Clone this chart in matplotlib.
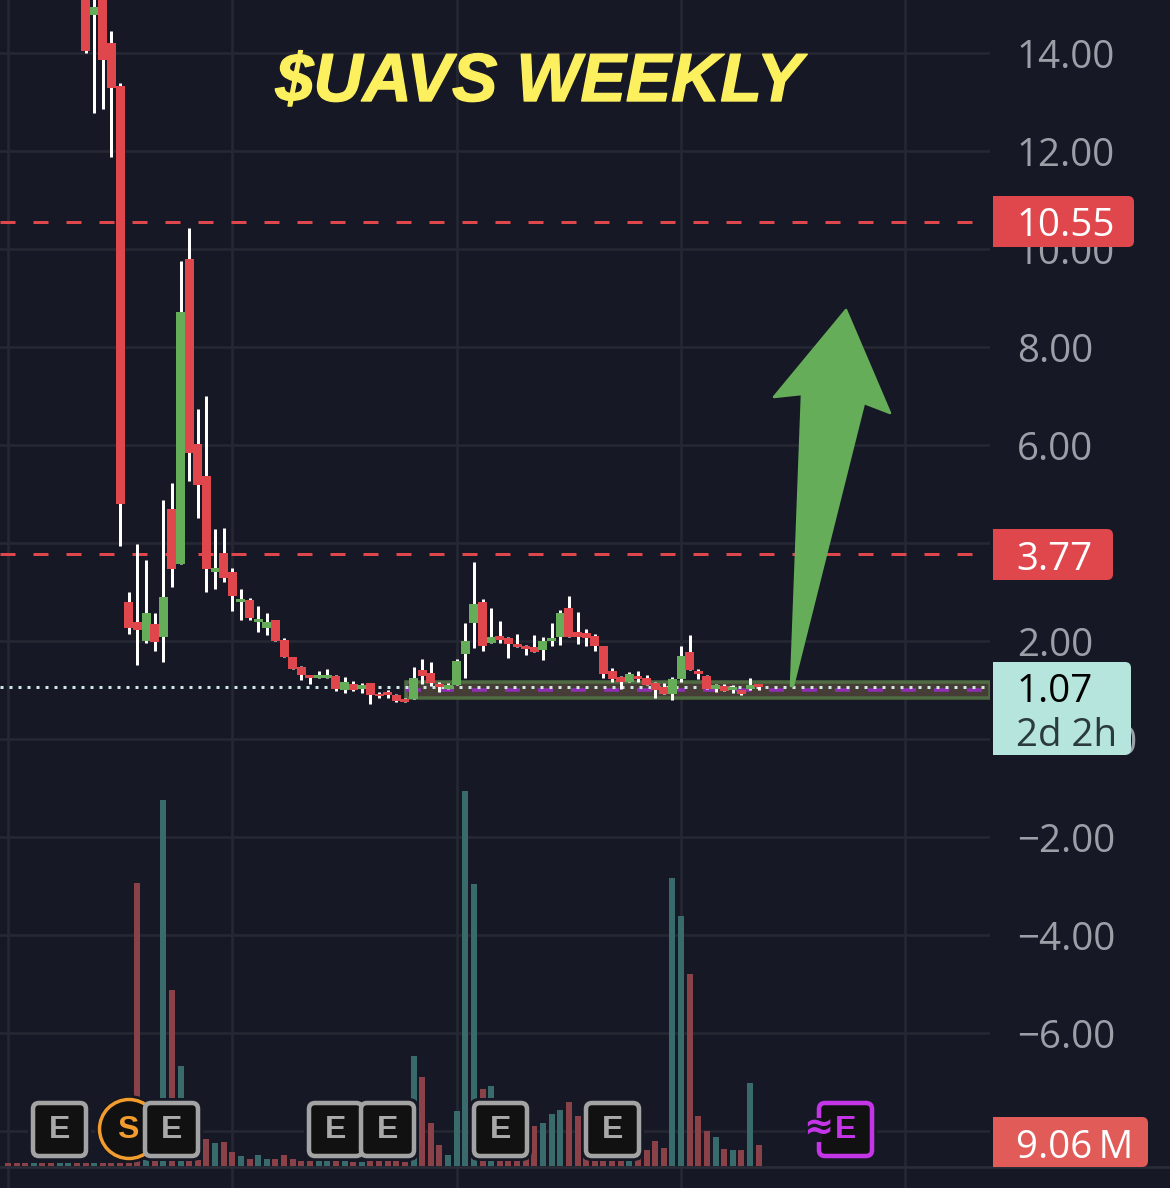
import matplotlib
matplotlib.use("Agg")
import matplotlib.pyplot as plt
import matplotlib.patheffects as pe
from matplotlib.patches import FancyBboxPatch, Polygon, Circle, Rectangle
from matplotlib.path import Path
from matplotlib.patches import PathPatch

# ---------- data ----------
opens = [15.6,14.77,15.3,14.2,13.32,2.79,2.38,1.99,2.34,2.08,4.69,3.57,9.79,6.03,5.36,3.40,3.79,3.40,2.79,2.83,
         2.38,2.26,2.42,2.03,1.67,1.46,1.30,1.24,1.24,1.28,0.99,1.12,1.03,1.14,0.91,0.95,0.89,0.81,0.81,1.40,
         1.34,1.12,1.03,1.10,1.73,2.36,2.79,1.95,2.10,2.06,1.93,1.89,1.87,1.81,1.99,2.08,2.67,2.18,2.16,2.10,
         1.89,1.38,1.26,1.16,1.28,1.24,1.14,1.06,0.91,1.22,1.77,1.38,1.28,1.03,1.08,0.99,0.99,1.03,1.12]
closes = [14.05,14.93,13.85,13.28,4.79,2.26,2.22,2.57,1.97,2.89,3.46,8.71,5.83,5.18,3.46,3.50,3.28,2.91,2.85,2.46,
          2.44,2.38,2.01,1.67,1.42,1.30,1.24,1.30,1.30,1.03,1.16,0.99,1.10,0.89,0.87,0.89,0.77,0.75,1.24,1.28,
          1.14,1.06,1.10,1.59,2.01,2.75,1.89,2.08,2.03,1.93,1.87,1.83,1.77,1.99,2.06,2.57,2.08,2.08,2.06,1.89,
          1.32,1.22,1.16,1.32,1.22,1.10,0.99,0.91,1.22,1.69,1.40,1.32,1.03,1.10,0.97,1.06,0.91,1.10,1.06]
highs = [15.9,15.6,15.6,14.44,13.38,2.99,3.97,3.65,2.57,4.87,5.22,9.75,10.42,6.73,7.01,4.28,4.30,3.48,3.06,2.87,
         2.71,2.57,2.42,2.06,1.67,1.48,1.30,1.38,1.42,1.30,1.26,1.18,1.14,1.14,0.95,0.99,0.91,0.83,1.46,1.63,
         1.57,1.16,1.14,1.63,2.36,3.61,2.85,2.67,2.40,2.08,2.14,1.91,2.12,2.08,2.36,2.63,2.91,2.59,2.24,2.14,
         1.89,1.44,1.28,1.36,1.38,1.30,1.16,1.14,1.26,1.89,2.12,1.42,1.30,1.12,1.12,1.10,1.01,1.24,1.12]
lows = [14.01,12.77,12.85,11.87,3.93,2.14,1.52,1.95,1.79,1.57,3.10,3.57,5.26,4.52,2.99,3.06,3.20,2.61,2.42,2.42,
        2.18,2.12,2.01,1.67,1.42,1.20,1.12,1.24,1.24,0.97,0.93,0.97,0.93,0.71,0.83,0.83,0.75,0.75,0.81,1.12,
        1.08,0.95,1.03,1.10,1.24,1.85,1.79,1.95,1.95,1.65,1.87,1.71,1.77,1.61,1.89,1.91,2.08,1.93,1.89,1.79,
        1.24,1.16,1.03,1.16,1.16,1.10,0.83,0.91,0.79,1.16,1.40,1.22,1.03,0.95,0.97,0.93,0.89,0.99,1.01]
first_volume_index = -9
early_volume_up = [0,0,0,1,0,0,1,1,0]   # weeks left of the first visible candle
volumes_m = [1.4,1.3,1.3,1.4,1.3,1.2,1.4,1.3,1.2,
             1.3,1.2,1.3,1.2,1.2,1.3,122,2.6,2.2,157.7,75.9,43.1,2.2,2.6,11.6,9.9,10.3,6.0,4.3,3.0,
             4.7,3.0,3.0,4.7,3.0,2.2,2.2,2.2,2.2,2.2,2.2,1.7,1.7,2.2,2.2,2.2,2.2,1.7,47.4,38.4,
             18.5,9.1,4.7,23.7,161.6,121.5,33.2,34.5,5,5,5,5,17.2,18.5,22.4,24.1,27.6,21.6,5,5,
             5,5,5,5,5,6.9,10.8,7.8,124,107.8,82.8,21.6,15.1,12.5,7.3,6.9,6.9,35.8,9.06]
price_ticks = [-8,-6,-4,-2,0,2,4,6,8,10,12,14]
price_tick_labels = ["\u22128.00","\u22126.00","\u22124.00","\u22122.00","0.0000","2.00","4.00","6.00","8.00","10.00","12.00","14.00"]
resistance_levels = [10.55, 3.77]
current_price = 1.07
support_low, support_high = 0.83, 1.17
support_start_index = 37.1
support_mid = 1.00
time_grid_indices = [-9,17,43,69,95]

# ---------- style ----------
W, H = 1170, 1188
BG = "#161925"
GRID = "#252833"
RED = "#e0474d"
GREEN = "#66ad59"
VOL_RED = "#8a4248"
VOL_TEAL = "#3a6b6c"
LABEL = "#9c9ea8"
FONT = "Open Sans"
FS = 38.5
PX = 0.72  # points per pixel at dpi 100
X0, STEP = 85.6, 8.63
Y0, YS = 739.0, 49.0
PANEL = 990

fig = plt.figure(figsize=(W/100, H/100), dpi=100, facecolor=BG)
ax = fig.add_axes([0, 0, PANEL/W, 1], facecolor=BG)
ax.set_xlim(-X0/STEP, (PANEL-X0)/STEP)
ax.set_ylim((Y0-H)/YS, Y0/YS)
for s in ax.spines.values():
    s.set_visible(False)
ax.set_xticks(time_grid_indices)
ax.set_yticks(price_ticks)
ax.set_yticklabels(price_tick_labels, fontfamily=FONT, fontsize=FS*PX, color=LABEL)
ax.yaxis.tick_right()
ax.tick_params(axis="y", length=0, pad=27*PX)
ax.tick_params(axis="x", length=0, labelbottom=False)
ax.set_axisbelow(True)
ax.grid(True, color=GRID, linewidth=2.6*PX)

# support zone
x_end = (PANEL-X0)/STEP
ax.add_patch(Rectangle((support_start_index, support_low), x_end-support_start_index, support_high-support_low,
                       facecolor="#453d36", edgecolor="#4f6b41", linewidth=3.5*PX, zorder=2))
ax.hlines(support_mid, support_start_index, x_end, color="#8d2fb0", linewidth=3.6*PX,
          linestyles=[(0, (15/3.6, 18/3.6))], zorder=2.2)
# resistance and last price lines
for lvl in resistance_levels:
    ax.hlines(lvl, ax.get_xlim()[0], (975-X0)/STEP, color=RED, linewidth=3*PX,
              linestyles=[(0, (15/3, 18/3))], zorder=2.5)
ax.hlines(current_price, ax.get_xlim()[0], x_end, color="#cfe8e4", linewidth=3*PX,
          linestyles=[(0, (1, 2))], zorder=2.6)

# candles
idx = list(range(len(opens)))
ax.vlines(idx, lows, highs, color="white", linewidth=3*PX, zorder=3)
for i, o, c in zip(idx, opens, closes):
    ax.bar(i, abs(c-o), bottom=min(o, c), width=9/STEP, color=GREEN if c >= o else RED, linewidth=0, zorder=4)

# volume pane
vax = fig.add_axes([0, 0, PANEL/W, 1], facecolor="none", zorder=1)
vax.set_xlim(ax.get_xlim())
PERPX = 0.431
vax.set_ylim(-(H-1166)*PERPX, 1166*PERPX)
vax.axis("off")
vol_up = early_volume_up + [int(c >= o) for o, c in zip(opens, closes)]
vidx = list(range(first_volume_index, first_volume_index+len(volumes_m)))
vax.bar(vidx, volumes_m, width=6/STEP, color=[VOL_TEAL if u else VOL_RED for u in vol_up], linewidth=0)

# overlay in pixel space for annotations
ov = fig.add_axes([0, 0, 1, 1], facecolor="none", zorder=2)
ov.set_xlim(0, W)
ov.set_ylim(H, 0)
ov.axis("off")
ov.plot([0, W], [1167, 1167], color="#2a2d38", lw=2.6*PX, zorder=1)

# right scale labels
def tag(x0, y0, x1, y1, color):
    r = 6
    verts = [(x0, y0), (x1-r, y0), (x1, y0), (x1, y0+r), (x1, y1-r), (x1, y1), (x1-r, y1), (x0, y1), (x0, y0)]
    codes = [Path.MOVETO, Path.LINETO, Path.CURVE3, Path.CURVE3, Path.LINETO, Path.CURVE3, Path.CURVE3, Path.LINETO, Path.CLOSEPOLY]
    ov.add_patch(PathPatch(Path(verts, codes), facecolor=color, edgecolor="none", zorder=3))

tag(993, 196, 1134, 247, RED)
ov.text(1017, 222, "10.55", color="white", fontfamily=FONT, fontsize=FS*PX, va="center_baseline", zorder=4)
tag(993, 529, 1113, 580, RED)
ov.text(1016, 555, "3.77", color="white", fontfamily=FONT, fontsize=FS*PX, va="center_baseline", zorder=4)
tag(993, 662, 1131, 755, "#b5e5dd")
ov.text(1017, 688, "1.07", color="black", fontfamily=FONT, fontsize=FS*PX, va="center_baseline", zorder=4)
ov.text(1016, 731, "2d 2h", color="#2b3b3b", fontfamily=FONT, fontsize=FS*PX, va="center_baseline", zorder=4)
tag(993, 1117, 1148, 1167, "#e15c58")
ov.text(1016, 1143, "9.06\u2009M", color="white", fontfamily=[FONT, "DejaVu Sans"], fontsize=FS*PX, va="center_baseline", zorder=4)

# arrow annotation
arrow_px = [(846, 310), (890, 413), (864, 403), (793, 686), (791, 686), (802, 394), (774, 397)]
ov.add_patch(Polygon(arrow_px, closed=True, facecolor=GREEN, edgecolor=GREEN, linewidth=2.5*PX, joinstyle="round", zorder=2.5))

# title
ov.text(539, 83, "$UAVS WEEKLY", color="#fdf05f", fontfamily="Liberation Sans", fontweight="bold", fontstyle="italic",
        fontsize=68*PX, ha="center", va="center", zorder=5,
        path_effects=[pe.withStroke(linewidth=1.0, foreground="#fdf05f")])

# event icons
def e_box(x0, label_color="#a9a9a9", edge="#a3a3a3"):
    ov.add_patch(FancyBboxPatch((x0-1, 1100), 59, 59, boxstyle="round,pad=0,rounding_size=8", facecolor=BG, edgecolor=BG,
                                linewidth=4*PX, zorder=5))
    ov.add_patch(FancyBboxPatch((x0+2, 1103), 53, 53, boxstyle="round,pad=0,rounding_size=6", facecolor="#111111",
                                edgecolor=edge, linewidth=4.5*PX, zorder=5.1))
    ov.text(x0+28.5, 1130, "E", color=label_color, fontfamily="Liberation Sans", fontweight="bold", fontsize=32*PX,
            ha="center", va="center", zorder=5.2)

e_box(31)
ov.add_patch(Circle((129, 1129), 33, facecolor="#111111", edgecolor=BG, linewidth=2*PX, zorder=5))
ov.add_patch(Circle((129, 1129), 29.5, facecolor="#111111", edgecolor="#f29b2e", linewidth=3.5*PX, zorder=5.05))
ov.text(128, 1130, "S", color="#f29b2e", fontfamily="Liberation Sans", fontweight="bold", fontsize=32*PX,
        ha="center", va="center", zorder=5.2)
for x in [143, 307, 359, 472, 584]:
    e_box(x)
e_box(817, label_color="#c535e8", edge="#c535e8")
ov.add_patch(Rectangle((806, 1118), 16, 24, facecolor="#161925", edgecolor="none", zorder=5.15))
ov.text(818, 1129, "\u2248", color="#c535e8", fontfamily="DejaVu Sans", fontweight="bold", fontsize=36*PX,
        ha="center", va="center", zorder=5.2)

fig.savefig("out.png", dpi=100, facecolor=BG)
